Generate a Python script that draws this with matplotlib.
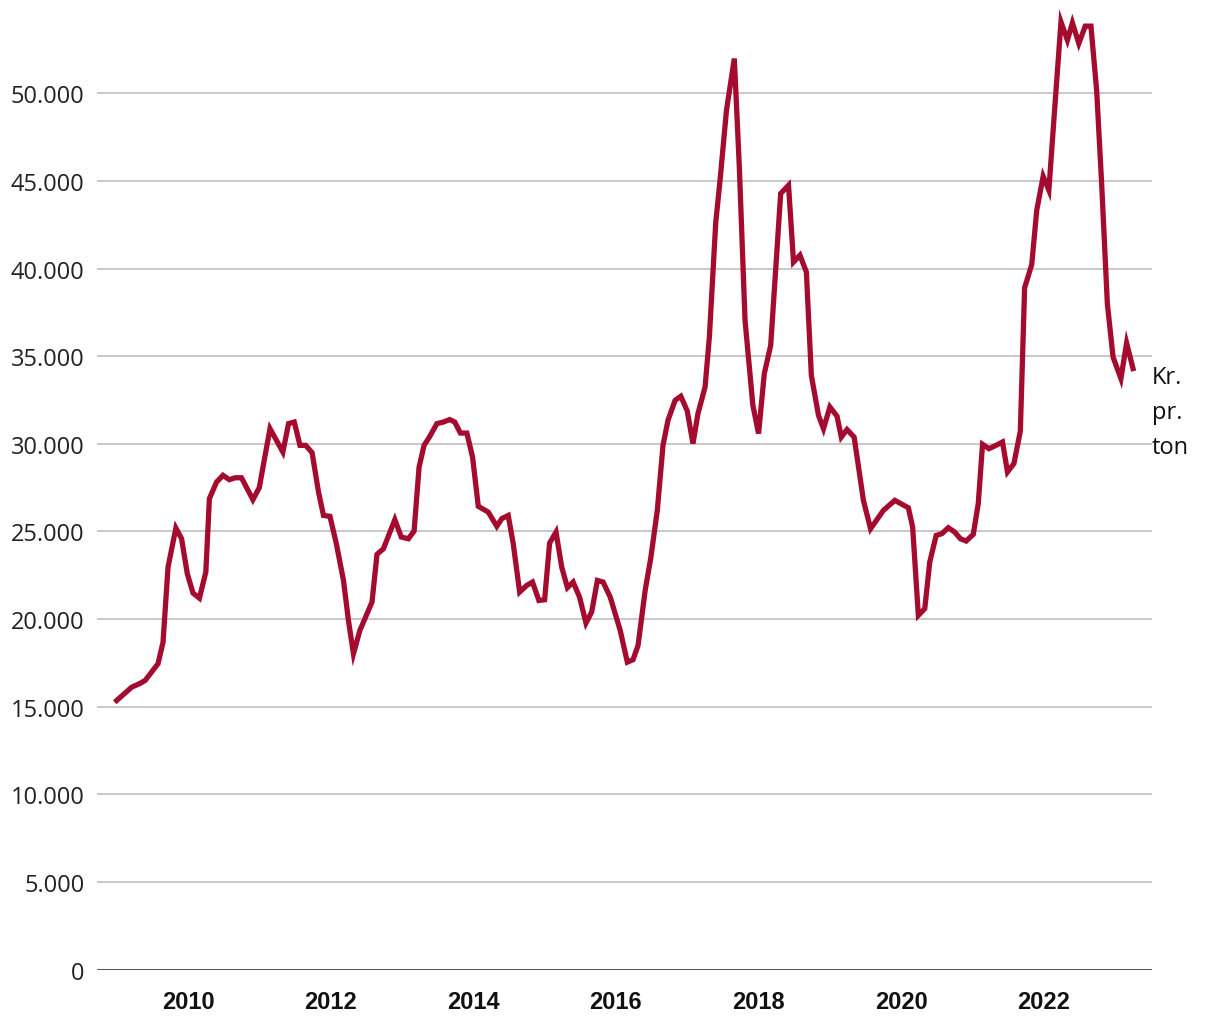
import matplotlib
matplotlib.use("Agg")
import matplotlib.pyplot as plt
from matplotlib.ticker import FuncFormatter

# Price in kr. per ton (decimal year, value)
years = [
    2009.00, 2009.21, 2009.33, 2009.40, 2009.58, 2009.65, 2009.72, 2009.83, 2009.91, 2009.99,
    2010.07, 2010.16, 2010.25, 2010.30, 2010.40, 2010.49, 2010.58, 2010.66, 2010.75, 2010.91,
    2011.00, 2011.06, 2011.15, 2011.33, 2011.41, 2011.49, 2011.57, 2011.65, 2011.74, 2011.83,
    2011.90, 2011.99, 2012.08, 2012.18, 2012.25, 2012.32, 2012.41, 2012.58, 2012.65, 2012.74,
    2012.90, 2012.99, 2013.09, 2013.17, 2013.24, 2013.31, 2013.38, 2013.49, 2013.58, 2013.67,
    2013.74, 2013.82, 2013.91, 2013.99, 2014.07, 2014.21, 2014.33, 2014.40, 2014.49, 2014.56,
    2014.65, 2014.75, 2014.83, 2014.92, 2015.00, 2015.07, 2015.16, 2015.24, 2015.32, 2015.40,
    2015.49, 2015.58, 2015.66, 2015.74, 2015.82, 2015.92, 2016.06, 2016.16, 2016.24, 2016.31,
    2016.41, 2016.49, 2016.58, 2016.66, 2016.73, 2016.83, 2016.91, 2017.00, 2017.08, 2017.15,
    2017.25, 2017.31, 2017.40, 2017.46, 2017.55, 2017.66, 2017.73, 2017.81, 2017.92, 2018.00,
    2018.08, 2018.17, 2018.23, 2018.31, 2018.42, 2018.49, 2018.58, 2018.67, 2018.74, 2018.84,
    2018.91, 2019.00, 2019.10, 2019.16, 2019.24, 2019.34, 2019.47, 2019.57, 2019.75, 2019.91,
    2020.10, 2020.16, 2020.24, 2020.33, 2020.40, 2020.49, 2020.57, 2020.66, 2020.75, 2020.83,
    2020.91, 2021.01, 2021.08, 2021.14, 2021.23, 2021.33, 2021.42, 2021.49, 2021.58, 2021.67,
    2021.73, 2021.83, 2021.90, 2021.99, 2022.07, 2022.14, 2022.24, 2022.33, 2022.40, 2022.49,
    2022.58, 2022.66, 2022.74, 2022.81, 2022.89, 2022.97, 2023.08, 2023.16, 2023.25,
]
prices = [
    15350, 16110, 16330, 16500, 17450, 18680, 22960, 25190, 24580, 22590,
    21480, 21190, 22680, 26870, 27810, 28200, 27950, 28060, 28060, 26810,
    27500, 28860, 30860, 29530, 31150, 31240, 29910, 29910, 29490, 27240,
    25910, 25860, 24300, 22200, 19900, 18020, 19350, 20970, 23690, 24010,
    25670, 24680, 24580, 25020, 28670, 29910, 30350, 31150, 31240, 31380,
    31240, 30610, 30610, 29240, 26430, 26100, 25290, 25730, 25910, 24300,
    21540, 21920, 22110, 21060, 21100, 24330, 24960, 22960, 21790, 22110,
    21250, 19770, 20400, 22200, 22110, 21250, 19350, 17540, 17680, 18490,
    21630, 23520, 26200, 29910, 31340, 32480, 32710, 31870, 30010, 31720,
    33240, 36090, 42660, 45040, 49030, 51980, 45800, 37050, 32190, 30580,
    34000, 35620, 39330, 44280, 44750, 40370, 40760, 39800, 33900, 31620,
    30860, 32100, 31570, 30380, 30810, 30380, 26770, 25150, 26200, 26770,
    26350, 25250, 20210, 20590, 23250, 24770, 24870, 25210, 24960, 24580,
    24450, 24830, 26580, 29970, 29720, 29910, 30100, 28390, 28870, 30720,
    38900, 40230, 43320, 45260, 44470, 48460, 54070, 53030, 54020, 52840,
    53830, 53830, 50170, 44850, 38000, 34950, 33720, 35750, 34290,
]

year_ticks = [2010, 2012, 2014, 2016, 2018, 2020, 2022]
value_ticks = [0, 5000, 10000, 15000, 20000, 25000, 30000, 35000, 40000, 45000, 50000]
unit_label = "Kr.\npr.\nton"

line_color = "#a50b2f"

fig = plt.figure(figsize=(12.2, 10.2), dpi=100)
ax = fig.add_axes([0.0795, 0.0485, 0.8647, 0.945])

ax.plot(years, prices, color=line_color, linewidth=3.8, solid_joinstyle="miter")

ax.set_xlim(2008.724, 2023.515)
ax.set_ylim(0, 55000)

# Gridlines on the value ticks, dark baseline at zero
ax.set_yticks(value_ticks)
ax.yaxis.grid(True, color="#bfbfbf", linewidth=1.2)
ax.set_axisbelow(True)
ax.axhline(0, color="#333333", linewidth=1.8, zorder=1)
for side in ["top", "right", "left", "bottom"]:
    ax.spines[side].set_visible(False)

ax.yaxis.set_major_formatter(FuncFormatter(lambda v, p: f"{int(v):,}".replace(",", ".")))
ax.tick_params(axis="y", length=0, pad=9, labelsize=17, labelcolor="#222222")
for lbl in ax.get_yticklabels():
    lbl.set_fontfamily("Open Sans")

ax.set_xticks(year_ticks)
ax.set_xticklabels([str(y) for y in year_ticks])
ax.tick_params(axis="x", length=0, pad=15, labelsize=17, labelcolor="#111111")
for lbl in ax.get_xticklabels():
    lbl.set_fontfamily("Liberation Sans")
    lbl.set_fontweight("bold")

ax.text(1.0, 34500, unit_label, transform=ax.get_yaxis_transform(), ha="left", va="top",
        fontsize=17, family="Open Sans", color="#111111", linespacing=1.62)

fig.savefig("out.png", dpi=100)
